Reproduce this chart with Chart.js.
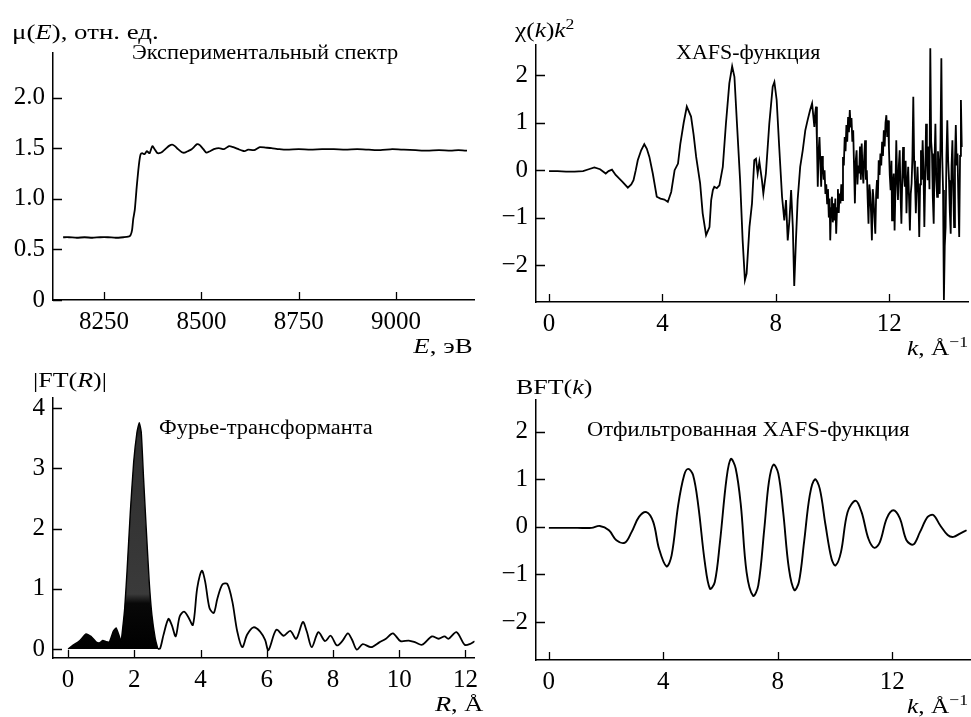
<!DOCTYPE html>
<html>
<head>
<meta charset="utf-8">
<script src="https://cdn.jsdelivr.net/npm/chart.js@4.4.1/dist/chart.umd.min.js"></script>
<style>
  body { margin: 0; background: #fff; }
  #wrap { position: relative; width: 971px; height: 717px; overflow: hidden;
          font-family: "Liberation Serif", "Times New Roman", serif; color: #000; }
  canvas { position: absolute; }
  .t { position: absolute; white-space: nowrap; line-height: 1; }
  .t sup { font-size: 70%; vertical-align: baseline; position: relative; top: -0.5em; }
</style>
</head>
<body>
<div id="wrap">
  <canvas id="c1" width="485" height="358" style="left:0;top:0"></canvas>
  <canvas id="c2" width="486" height="358" style="left:485px;top:0"></canvas>
  <canvas id="c3" width="485" height="359" style="left:0;top:358px"></canvas>
  <canvas id="c4" width="486" height="359" style="left:485px;top:358px"></canvas>
</div>
<script>
// --- experimental spectrum mu(E)
const energy = [8145, 8160, 8180, 8200, 8220, 8240, 8260, 8280, 8300, 8312, 8318, 8322, 8325, 8329, 8334, 8338, 8341, 8344, 8348, 8354, 8360, 8367, 8374, 8380, 8386, 8392, 8400, 8410, 8418, 8425, 8432, 8440, 8450, 8457, 8465, 8475, 8482, 8489, 8496, 8505, 8513, 8522, 8532, 8545, 8558, 8571, 8582, 8595, 8605, 8611, 8620, 8635, 8650, 8665, 8680, 8700, 8720, 8750, 8780, 8810, 8840, 8870, 8900, 8930, 8960, 8990, 9020, 9050, 9080, 9110, 9140, 9160, 9182];
const mu = [0.62, 0.62, 0.615, 0.62, 0.615, 0.62, 0.62, 0.615, 0.62, 0.625, 0.64, 0.69, 0.80, 0.89, 1.12, 1.28, 1.38, 1.44, 1.45, 1.44, 1.47, 1.45, 1.52, 1.49, 1.455, 1.45, 1.465, 1.50, 1.525, 1.535, 1.52, 1.49, 1.46, 1.455, 1.47, 1.49, 1.515, 1.54, 1.53, 1.49, 1.455, 1.47, 1.49, 1.50, 1.49, 1.52, 1.51, 1.49, 1.475, 1.47, 1.485, 1.48, 1.51, 1.505, 1.50, 1.49, 1.485, 1.49, 1.485, 1.49, 1.49, 1.485, 1.49, 1.485, 1.48, 1.49, 1.485, 1.48, 1.475, 1.48, 1.475, 1.48, 1.475];
const energyTicks = [8250, 8500, 8750, 9000];
const muTicks = [0, 0.5, 1.0, 1.5, 2.0];

// --- XAFS function chi(k)k^2
const kChi = [0, 0.3, 0.6, 0.9, 1.2, 1.4, 1.6, 1.8, 2.0, 2.1, 2.22, 2.35, 2.48, 2.6, 2.78, 2.9, 2.98, 3.06, 3.13, 3.25, 3.36, 3.45, 3.54, 3.66, 3.8, 3.93, 4.07, 4.19, 4.31, 4.43, 4.55, 4.63, 4.75, 4.86, 5.01, 5.1, 5.19, 5.33, 5.42, 5.54, 5.66, 5.72, 5.78, 5.83, 5.92, 6.01, 6.13, 6.24, 6.36, 6.46, 6.54, 6.63, 6.74, 6.83, 6.91, 6.97, 7.07, 7.16, 7.24, 7.3, 7.36, 7.42, 7.51, 7.56, 7.65, 7.77, 7.89, 7.95, 8.03, 8.12, 8.22, 8.3, 8.36, 8.42, 8.48, 8.54, 8.6, 8.65, 8.71, 8.77, 8.86, 8.95, 9.04, 9.12, 9.21, 9.28,
  9.36, 9.39, 9.42, 9.45, 9.48, 9.51, 9.54, 9.57, 9.6, 9.63, 9.66, 9.69, 9.72, 9.75, 9.78, 9.81, 9.84, 9.87, 9.9, 9.92, 9.95, 9.98, 10.01, 10.04, 10.07, 10.1, 10.13, 10.16, 10.19, 10.22, 10.25, 10.28, 10.31, 10.34, 10.37, 10.4, 10.43, 10.46, 10.49, 10.52, 10.55, 10.58, 10.61, 10.64, 10.67, 10.7, 10.73, 10.76, 10.79, 10.82, 10.85, 10.88, 10.91, 10.94, 10.97, 11.0, 11.03, 11.06, 11.09, 11.12, 11.15, 11.18, 11.21, 11.24, 11.27, 11.3, 11.33, 11.36, 11.39, 11.42, 11.45, 11.48, 11.51, 11.54, 11.57, 11.6, 11.63, 11.66, 11.69, 11.72, 11.75, 11.78, 11.81, 11.84, 11.87, 11.9, 11.93, 11.96, 11.99, 12.02, 12.05, 12.08, 12.1, 12.13, 12.16, 12.19, 12.22, 12.25, 12.28, 12.31, 12.34, 12.37, 12.4, 12.43, 12.46, 12.49, 12.52, 12.55, 12.58, 12.61, 12.64, 12.67, 12.7, 12.73, 12.76, 12.79, 12.82, 12.85, 12.88, 12.91, 12.94, 12.97, 13.0, 13.03, 13.06, 13.09, 13.12, 13.15, 13.18, 13.21, 13.24, 13.27, 13.3, 13.33, 13.36, 13.39, 13.42, 13.45, 13.48, 13.51, 13.54, 13.57, 13.6, 13.63, 13.66, 13.69, 13.72, 13.75, 13.78, 13.81, 13.84, 13.87, 13.9, 13.93, 13.96, 13.99, 14.02, 14.05, 14.08, 14.11, 14.14, 14.17, 14.2, 14.23, 14.26, 14.29, 14.32, 14.35, 14.38, 14.41, 14.44, 14.47, 14.5, 14.53, 14.56];
const chiK2 = [-0.02, -0.02, -0.03, -0.03, -0.02, 0.02, 0.06, 0.02, -0.07, -0.02, 0.01, -0.1, -0.18, -0.25, -0.37, -0.3, -0.21, 0, 0.21, 0.42, 0.55, 0.45, 0.28, -0.07, -0.56, -0.6, -0.62, -0.67, -0.46, 0, 0.14, 0.55, 1.0, 1.34, 1.13, 0.75, 0.28, -0.28, -0.91, -1.37, -1.2, -0.63, -0.42, -0.35, -0.38, -0.32, 0.07, 0.98, 1.83, 2.19, 1.97, 0.98, -0.21, -1.48, -2.32, -2.18, -1.2, -0.7, 0.21, 0.24, -0.07, 0.18, -0.21, -0.49, -0.07, 0.98, 1.76, 1.86, 1.48, 0.49, -0.56, -1.06, -0.63, -1.48, -1.06, -0.42, -1.2, -2.44, -1.48, -0.63, 0.07, 0.42, 0.84, 1.05, 1.27, 1.41,
  0.91, 1.2, 1.34, 0.6, -0.35, 0.4, 0.7, 0.2, -0.35, 0.3, 0.1, -0.2, 0.0, -0.5, -0.3, -0.7, -0.4, -1.0, -0.6, -1.48, -0.8, -0.56, -1.1, -0.7, -1.06, -0.6, -1.34, -0.8, -0.4, -0.9, -0.49, -0.7, -0.3, -0.63, 0.28, 0.1, 0.7, 0.4, 0.95, 0.6, 1.12, 0.8, 1.27, 0.9, 1.1, 0.6, 0.84, 0.07, -0.7, 0.2, 0.42, -0.3, 0.1, -0.07, 0.5, -0.2, 0.56, 0.0, -0.28, 0.3, 0.63, -0.2, 0.0, -0.6, -1.13, -0.3, -0.49, -0.9, -1.48, -0.4, -0.63, -1.0, -1.34, -0.5, -0.21, -0.6, 0.21, -0.1, 0.35, 0.1, 0.6, 0.3, 0.84, 0.5, 1.0, 1.16, 0.7, 1.05, 0.49, -0.1, -0.42, 0.2, -1.06, -0.3, -0.07, -1.27, -0.4, 0.63, -0.2, -0.63, 0.1, 0.42, -0.5, -1.13, -0.2, 0.49, -0.1, -0.35, 0.2, -0.91, -0.3, 0.07, -0.6, -1.27, -0.5, -0.28, 0.3, 1.55, 0.2, -0.21, -0.91, -0.3, 0.07, -0.5, -1.41, -0.3, 0.42, -0.2, 0.63, 0.0, -1.2, -0.2, 0.98, 0.3, -0.21, 0.5, -0.4, 2.57, 0.6, 0.35, -0.6, -1.13, 0.2, 0.98, -0.2, -0.56, 0.4, 0.07, -0.5, 0.6, 2.36, 0.3, -0.42, -2.74, -1.6, -1.2, 0.3, 1.05, 0.2, -0.21, -0.9, -1.34, 0.1, 0.63, -0.4, -1.2, 0.2, 0.95, 0.1, 0.35, -0.6, -1.41, 0.3, 1.48, 0.49];
const kTicks = [0, 4, 8, 12];
const chiTicks = [-2, -1, 0, 1, 2];

// --- Fourier transform |FT(R)|
const ftPeakR = [0, 0.14, 0.34, 0.54, 0.69, 0.84, 0.94, 1.05, 1.15, 1.25, 1.36, 1.45, 1.53, 1.6, 1.65, 1.71, 1.78, 1.88, 1.98, 2.08, 2.15, 2.21, 2.28, 2.36, 2.45, 2.53, 2.63, 2.71];
const ftPeakV = [0, 0.06, 0.13, 0.25, 0.21, 0.12, 0.1, 0.14, 0.12, 0.12, 0.29, 0.35, 0.24, 0.13, 0.35, 0.68, 1.29, 2.28, 3.1, 3.6, 3.76, 3.6, 2.83, 2.0, 1.12, 0.57, 0.18, 0];
const ftTailR = [2.71, 2.78, 2.88, 3.03, 3.13, 3.25, 3.37, 3.5, 3.62, 3.77, 3.9, 4.04, 4.14, 4.27, 4.4, 4.51, 4.66, 4.81, 4.96, 5.11, 5.26, 5.41, 5.6, 5.8, 5.95, 6.05, 6.29, 6.51, 6.71, 6.89, 7.09, 7.21, 7.36, 7.56, 7.76, 7.93, 8.12, 8.28, 8.45, 8.58, 8.72, 8.9, 9.15, 9.4, 9.6, 9.81, 10.04, 10.29, 10.49, 10.69, 10.99, 11.19, 11.37, 11.49, 11.73, 11.98, 12.13, 12.28];
const ftTailV = [0, 0.01, 0.23, 0.5, 0.4, 0.21, 0.54, 0.62, 0.54, 0.4, 1.01, 1.3, 1.12, 0.68, 0.6, 0.84, 1.07, 1.08, 0.79, 0.29, 0.03, 0.24, 0.36, 0.29, 0.15, -0.02, 0.32, 0.22, 0.3, 0.17, 0.45, 0.29, 0.03, 0.28, 0.13, 0.22, 0.06, 0.13, 0.26, 0.15, -0.01, 0.08, 0.03, 0.11, 0.17, 0.26, 0.13, 0.14, 0.11, 0.07, 0.21, 0.17, 0.21, 0.17, 0.28, 0.07, 0.08, 0.13];
const rTicks = [0, 2, 4, 6, 8, 10, 12];
const ftTicks = [0, 1, 2, 3, 4];

// --- filtered XAFS function BFT(k)
const kBft = [0, 0.5, 1.0, 1.49, 1.78, 2.1, 2.36, 2.66, 2.89, 3.15, 3.41, 3.65, 3.85, 4.11, 4.29, 4.52, 4.73, 4.87, 5.04, 5.22, 5.45, 5.63, 5.8, 5.98, 6.21, 6.36, 6.53, 6.71, 6.91, 7.14, 7.32, 7.53, 7.69, 7.85, 8.02, 8.19, 8.39, 8.58, 8.74, 8.92, 9.12, 9.3, 9.47, 9.67, 9.88, 10.02, 10.21, 10.44, 10.72, 10.93, 11.17, 11.38, 11.57, 11.81, 12.04, 12.27, 12.5, 12.74, 12.97, 13.24, 13.44, 13.67, 13.94, 14.14, 14.37, 14.6];
const bft = [-0.02, -0.02, -0.02, -0.02, 0.02, -0.07, -0.28, -0.33, -0.11, 0.21, 0.31, 0.1, -0.46, -0.83, -0.6, 0.46, 1.09, 1.22, 1.09, 0.46, -0.74, -1.3, -1.16, -0.32, 1.02, 1.43, 1.23, 0.46, -0.95, -1.45, -1.23, -0.04, 0.94, 1.31, 1.12, 0.31, -0.88, -1.33, -1.16, -0.32, 0.67, 1.0, 0.8, 0.04, -0.67, -0.81, -0.53, 0.31, 0.55, 0.31, -0.25, -0.44, -0.32, 0.18, 0.35, 0.18, -0.28, -0.37, -0.11, 0.21, 0.25, 0.04, -0.17, -0.21, -0.14, -0.07];
const bftTicks = [-2, -1, 0, 1, 2];

const FONT = { family: '"Liberation Serif", "Times New Roman", serif', size: 25 };
const minus = v => String(v).replace('-', '\u2212');
const plain = v => String(v);

// tick marks pointing into the plot
const innerTicks = {
  id: 'innerTicks',
  afterDraw(chart) {
    const { ctx, chartArea: a, scales: { x, y } } = chart;
    ctx.save();
    ctx.strokeStyle = '#000';
    ctx.lineWidth = 1.3;
    ctx.beginPath();
    x.ticks.forEach(t => {
      const p = Math.round(x.getPixelForValue(t.value)) + 0.5;
      ctx.moveTo(p, a.bottom); ctx.lineTo(p, a.bottom - 8);
    });
    y.ticks.forEach(t => {
      const p = Math.round(y.getPixelForValue(t.value)) + 0.5;
      ctx.moveTo(a.left, p); ctx.lineTo(a.left + 9, p);
    });
    ctx.stroke();
    ctx.restore();
  }
};

function panel(id, datasets, o) {
  return new Chart(document.getElementById(id), {
    type: 'line',
    data: { datasets },
    options: {
      responsive: false,
      animation: false,
      devicePixelRatio: 1,
      layout: { padding: o.pad },
      plugins: { legend: { display: false }, tooltip: { enabled: false } },
      elements: { point: { radius: 0 } },
      scales: {
        x: {
          type: 'linear', min: o.x[0], max: o.x[1],
          afterFit: s => { s.height = o.xh; },
          afterBuildTicks: s => { s.ticks = o.xt.map(v => ({ value: v })); },
          grid: { display: false, drawTicks: false },
          border: { display: true, color: '#000', width: 1.5 },
          ticks: { color: '#000', font: FONT, padding: 7, maxRotation: 0, autoSkip: false, callback: plain }
        },
        y: {
          type: 'linear', min: o.y[0], max: o.y[1],
          afterFit: s => { s.width = o.yw; },
          afterBuildTicks: s => { s.ticks = o.yt.map(v => ({ value: v })); },
          grid: { display: false, drawTicks: false },
          border: { display: true, color: '#000', width: 1.5 },
          ticks: { color: '#000', font: FONT, padding: 8, autoSkip: false, callback: o.yf }
        }
      }
    },
    plugins: [innerTicks]
  });
}

const pts = (xs, ys) => xs.map((v, i) => ({ x: v, y: ys[i] }));

panel('c1', [{
  data: pts(energy, mu), borderColor: '#000', borderWidth: 1.8, tension: 0.2, fill: false
}], {
  pad: { left: 0, top: 53, right: 11, bottom: 0 }, yw: 53, xh: 58,
  x: [8119, 9200], y: [0, 2.44], xt: energyTicks, yt: muTicks,
  yf: v => v === 0 ? '0' : v.toFixed(1)
});

panel('c2', [{
  data: pts(kChi, chiK2), borderColor: '#000', borderWidth: 1.8, tension: 0, fill: false
}], {
  pad: { left: 0, top: 45, right: 3, bottom: 0 }, yw: 51, xh: 56,
  x: [-0.46, 14.78], y: [-2.78, 2.64], xt: kTicks, yt: chiTicks, yf: minus
});

panel('c3', [{
  data: pts(ftPeakR, ftPeakV), borderColor: '#000', borderWidth: 1.4, tension: 0.15,
  fill: { value: 0 },
  backgroundColor: ctx => {
    const ch = ctx.chart;
    if (!ch.chartArea) return '#000';
    const ys = ch.scales.y;
    const g = ch.ctx.createLinearGradient(0, ys.getPixelForValue(3.8), 0, ys.getPixelForValue(0));
    g.addColorStop(0, '#111');
    g.addColorStop(0.08, '#2e2e2e');
    g.addColorStop(0.76, '#3a3a3a');
    g.addColorStop(0.8, '#080808');
    g.addColorStop(1, '#000');
    return g;
  }
}, {
  data: pts(ftTailR, ftTailV), borderColor: '#000', borderWidth: 1.8, tension: 0.3, fill: false
}], {
  pad: { left: 0, top: 40, right: 5, bottom: 0 }, yw: 53, xh: 59,
  x: [-0.456, 12.28], y: [-0.15, 4.17], xt: rTicks, yt: ftTicks, yf: minus
});

panel('c4', [{
  data: pts(kBft, bft), borderColor: '#000', borderWidth: 1.9, tension: 0.35, fill: false
}], {
  pad: { left: 0, top: 42, right: 1, bottom: 0 }, yw: 51, xh: 57,
  x: [-0.45, 14.72], y: [-2.8, 2.67], xt: kTicks, yt: bftTicks, yf: minus
});

// axis titles and captions (the original typesetting is a little wider than the font)
const wrap = document.getElementById('wrap');
function label(html, x, base, size, stretch, align) {
  const d = document.createElement('div');
  d.className = 't';
  d.style.fontSize = size + 'px';
  d.style.top = (base - 0.8375 * size) + 'px';
  d.style.transform = 'scaleX(' + stretch + ')';
  if (align === 'right') {
    d.style.right = (971 - x) + 'px';
    d.style.transformOrigin = 'right center';
  } else {
    d.style.left = x + 'px';
    d.style.transformOrigin = 'left center';
  }
  d.innerHTML = html;
  wrap.appendChild(d);
}
label('\u03bc(<i>E</i>), отн. ед.', 12, 39, 22, 1.22);
label('Экспериментальный спектр', 132, 59, 20, 1.12);
label('<i>E</i>, эВ', 473, 353, 22, 1.22, 'right');
label('\u03c7(<i>k</i>)<i>k</i><sup>2</sup>', 515, 37, 22, 1.15);
label('XAFS-функция', 676, 59, 20, 1.1);
label('<i>k</i>, Å<sup>\u22121</sup>', 968, 355, 22, 1.15, 'right');
label('|FT(<i>R</i>)|', 33, 387, 22, 1.18);
label('Фурье-трансформанта', 159, 434, 20, 1.12);
label('<i>R</i>, Å', 483, 711, 22, 1.2, 'right');
label('BFT(<i>k</i>)', 516, 394, 22, 1.18);
label('Отфильтрованная XAFS-функция', 587, 436, 20, 1.12);
label('<i>k</i>, Å<sup>\u22121</sup>', 968, 713, 22, 1.15, 'right');
</script>
</body>
</html>
